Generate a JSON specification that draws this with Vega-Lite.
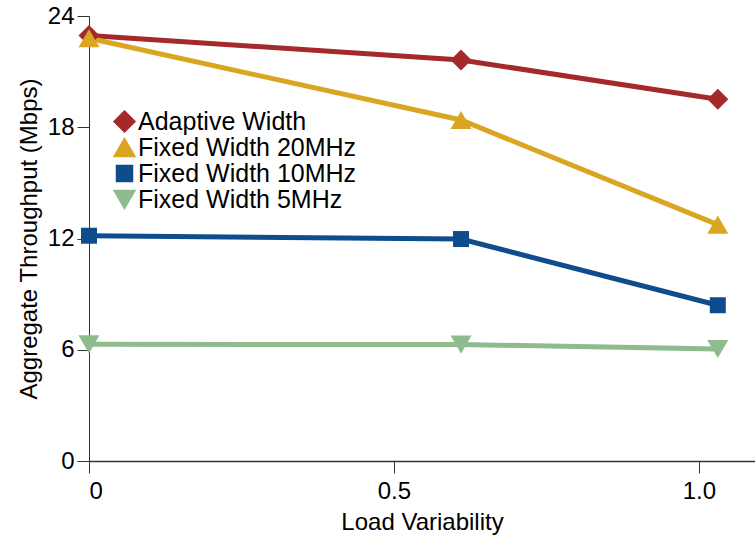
{
  "$schema": "https://vega.github.io/schema/vega-lite/v6.json",
  "autosize": "none",
  "width": 666,
  "height": 445,
  "padding": {"left": 89, "top": 16, "right": 0, "bottom": 84},
  "background": "white",
  "config": {
    "view": {"stroke": null},
    "font": "Liberation Sans",
    "axis": {
      "grid": false,
      "domainColor": "#333333",
      "tickColor": "#333333",
      "tickSize": 12,
      "labelFont": "Liberation Sans",
      "titleFont": "Liberation Sans",
      "labelFontSize": 24,
      "titleFontSize": 24,
      "labelColor": "black",
      "titleColor": "black",
      "titleFontWeight": "normal"
    },
    "legend": {
      "labelFont": "Liberation Sans",
      "labelFontSize": 25,
      "labelColor": "black",
      "labelLimit": 0
    }
  },
  "data": {
    "values": [
      {"load": 0, "throughput": 22.95, "series": "Adaptive Width"},
      {"load": 0.61, "throughput": 21.63, "series": "Adaptive Width"},
      {"load": 1.031, "throughput": 19.51, "series": "Adaptive Width"},
      {"load": 0, "throughput": 22.8, "series": "Fixed Width 20MHz"},
      {"load": 0.61, "throughput": 18.39, "series": "Fixed Width 20MHz"},
      {"load": 1.031, "throughput": 12.75, "series": "Fixed Width 20MHz"},
      {"load": 0, "throughput": 12.15, "series": "Fixed Width 10MHz"},
      {"load": 0.61, "throughput": 11.97, "series": "Fixed Width 10MHz"},
      {"load": 1.031, "throughput": 8.4, "series": "Fixed Width 10MHz"},
      {"load": 0, "throughput": 6.29, "series": "Fixed Width 5MHz"},
      {"load": 0.61, "throughput": 6.28, "series": "Fixed Width 5MHz"},
      {"load": 1.031, "throughput": 6.04, "series": "Fixed Width 5MHz"}
    ]
  },
  "encoding": {
    "x": {
      "field": "load",
      "type": "quantitative",
      "scale": {"domain": [0, 1.092], "nice": false, "zero": false},
      "axis": {
        "title": "Load Variability",
        "values": [0, 0.5, 1],
        "labelExpr": "datum.value == 0 ? '0' : format(datum.value, '.1f')",
        "labelPadding": 6,
        "titlePadding": 7,
        "domainWidth": 1.5
      }
    },
    "y": {
      "field": "throughput",
      "type": "quantitative",
      "scale": {"domain": [0, 24], "nice": false},
      "axis": {
        "title": "Aggregate Throughput (Mbps)",
        "values": [0, 6, 12, 18, 24],
        "labelPadding": 3,
        "titlePadding": 6
      }
    },
    "color": {
      "field": "series",
      "type": "nominal",
      "scale": {
        "domain": ["Adaptive Width", "Fixed Width 20MHz", "Fixed Width 10MHz", "Fixed Width 5MHz"],
        "range": ["#A3292B", "#DAA520", "#0E4C8C", "#8FBC8F"]
      },
      "legend": {
        "title": null,
        "orient": "none",
        "legendX": 23,
        "legendY": 93,
        "padding": 0,
        "symbolSize": 300,
        "symbolOpacity": 1,
        "labelOffset": 1,
        "rowPadding": 0
      }
    }
  },
  "layer": [
    {
      "mark": {"type": "line", "strokeWidth": 5}
    },
    {
      "mark": {"type": "point", "filled": true, "opacity": 1, "strokeWidth": 0},
      "encoding": {
        "shape": {
          "field": "series",
          "type": "nominal",
          "scale": {
            "domain": ["Adaptive Width", "Fixed Width 20MHz", "Fixed Width 10MHz", "Fixed Width 5MHz"],
            "range": ["diamond", "triangle-up", "square", "triangle-down"]
          },
          "legend": {
            "title": null,
            "orient": "none",
            "legendX": 23,
            "legendY": 93,
            "padding": 0,
            "symbolSize": 300,
            "symbolOpacity": 1,
            "labelOffset": 1,
            "rowPadding": 0
          }
        },
        "size": {
          "field": "series",
          "type": "ordinal",
          "scale": {
            "type": "ordinal",
            "domain": ["Adaptive Width", "Fixed Width 20MHz", "Fixed Width 10MHz", "Fixed Width 5MHz"],
            "range": [441, 441, 256, 441]
          },
          "legend": null
        }
      }
    }
  ]
}
